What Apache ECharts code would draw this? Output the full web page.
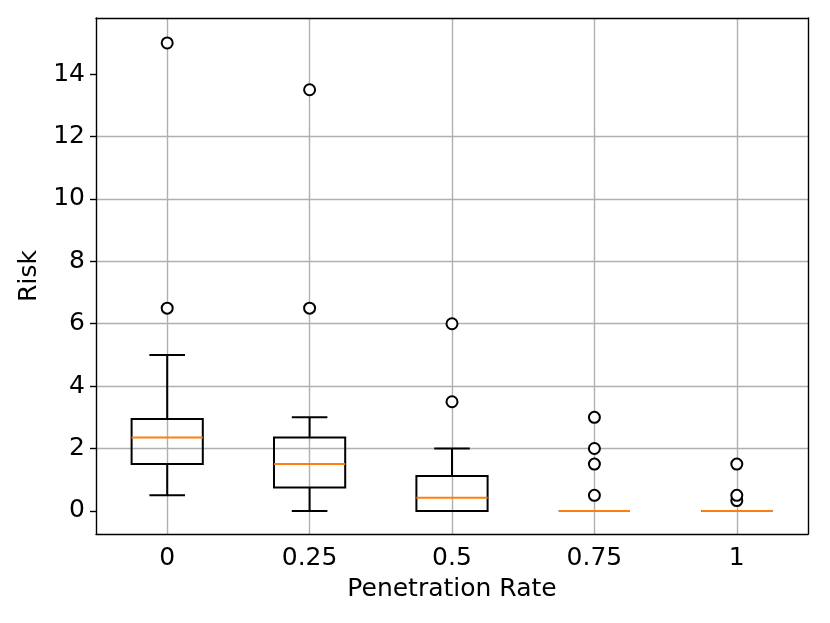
<!DOCTYPE html>
<html>
<head>
<meta charset="utf-8">
<script src="https://cdn.jsdelivr.net/npm/echarts@6/dist/echarts.min.js"></script>
<style>
  html, body { margin: 0; padding: 0; background: #fff; }
  #main { width: 830px; height: 623px; }
</style>
</head>
<body>
<div id="main"></div>
<script>
// categories on the x axis
var categories = ['0', '0.25', '0.5', '0.75', '1'];
// box statistics per category
var lowWhisker = [0.5, 0, 0, 0, 0];
var q1 = [1.5, 0.75, 0, 0, 0];
var median = [2.35, 1.5, 0.42, 0, 0];
var q3 = [2.95, 2.35, 1.12, 0, 0];
var highWhisker = [5, 3, 2, 0, 0];
// outliers: category index and value
var outlierCat = [0, 0, 1, 1, 2, 2, 3, 3, 3, 3, 4, 4, 4];
var outlierVal = [6.5, 15, 6.5, 13.5, 3.5, 6, 0.5, 1.5, 2, 3, 0.33, 0.5, 1.5];
// y ticks
var yTicks = [0, 2, 4, 6, 8, 10, 12, 14];
var yMin = -0.74, yMax = 15.8;

var font = 'DejaVu Sans';
var fs = 25;

var boxData = categories.map(function (c, i) {
    return [i, lowWhisker[i], q1[i], median[i], q3[i], highWhisker[i]];
});
var outlierData = outlierCat.map(function (c, i) {
    return [c, outlierVal[i]];
});

function renderBox(params, api) {
    var i = api.value(0);
    var band = api.size([1, 0])[0];
    var half = band * 0.25, cap = band * 0.125;
    var x = api.coord([i, 0])[0];
    var yLo = api.coord([i, api.value(1)])[1];
    var yQ1 = api.coord([i, api.value(2)])[1];
    var yMed = api.coord([i, api.value(3)])[1];
    var yQ3 = api.coord([i, api.value(4)])[1];
    var yHi = api.coord([i, api.value(5)])[1];
    var black = { stroke: '#000', lineWidth: 2, fill: null };
    return {
        type: 'group',
        children: [
            { type: 'line', shape: { x1: x, y1: yQ1, x2: x, y2: yLo }, style: black },
            { type: 'line', shape: { x1: x, y1: yQ3, x2: x, y2: yHi }, style: black },
            { type: 'line', shape: { x1: x - cap, y1: yLo, x2: x + cap, y2: yLo }, style: black },
            { type: 'line', shape: { x1: x - cap, y1: yHi, x2: x + cap, y2: yHi }, style: black },
            { type: 'rect', shape: { x: x - half, y: yQ3, width: half * 2, height: yQ1 - yQ3 }, style: black },
            { type: 'line', shape: { x1: x - half, y1: yMed, x2: x + half, y2: yMed },
              style: { stroke: '#ff7f0e', lineWidth: 2 } }
        ]
    };
}

var option = {
    backgroundColor: '#fff',
    animation: false,
    grid: { left: 96, right: 22, top: 18, bottom: 89 },
    xAxis: [{
        type: 'category',
        data: categories,
        name: 'Penetration Rate',
        nameLocation: 'middle',
        nameGap: 43,
        nameTextStyle: { fontFamily: font, fontSize: fs, color: '#000' },
        axisLine: { onZero: false, lineStyle: { color: '#000', width: 1.4 } },
        axisTick: { alignWithLabel: true, length: 6, lineStyle: { color: '#000', width: 1.4 } },
        axisLabel: { fontFamily: font, fontSize: fs, color: '#000', margin: 12 },
        splitLine: { show: true, alignWithLabel: true, lineStyle: { color: '#b0b0b0', width: 1.4 } }
    }, {
        type: 'category',
        data: categories,
        position: 'top',
        axisLine: { onZero: false, lineStyle: { color: '#000', width: 1.4 } },
        axisTick: { show: false },
        axisLabel: { show: false },
        splitLine: { show: false }
    }],
    yAxis: [{
        type: 'value',
        min: yMin,
        max: yMax,
        splitNumber: 8,
        name: 'Risk',
        nameLocation: 'middle',
        nameGap: 54,
        nameTextStyle: { fontFamily: font, fontSize: fs, color: '#000' },
        axisLine: { show: true, onZero: false, lineStyle: { color: '#000', width: 1.4 } },
        axisTick: { show: true, length: 6, customValues: yTicks, lineStyle: { color: '#000', width: 1.4 } },
        axisLabel: { fontFamily: font, fontSize: fs, color: '#000', margin: 11, customValues: yTicks },
        splitLine: { show: true, showMinLine: false, showMaxLine: false, lineStyle: { color: '#b0b0b0', width: 1.4 } }
    }, {
        type: 'value',
        min: yMin,
        max: yMax,
        position: 'right',
        axisLine: { show: true, onZero: false, lineStyle: { color: '#000', width: 1.4 } },
        axisTick: { show: false },
        axisLabel: { show: false },
        splitLine: { show: false }
    }],
    series: [{
        type: 'custom',
        renderItem: renderBox,
        encode: { x: 0, y: [1, 2, 3, 4, 5] },
        data: boxData,
        z: 3
    }, {
        type: 'scatter',
        data: outlierData,
        symbol: 'emptyCircle',
        symbolSize: 11,
        itemStyle: { color: '#000', borderColor: '#000', borderWidth: 1.7, opacity: 1 },
        z: 4
    }]
};

var myChart = echarts.init(document.getElementById('main'));
myChart.setOption(option);
</script>
</body>
</html>
